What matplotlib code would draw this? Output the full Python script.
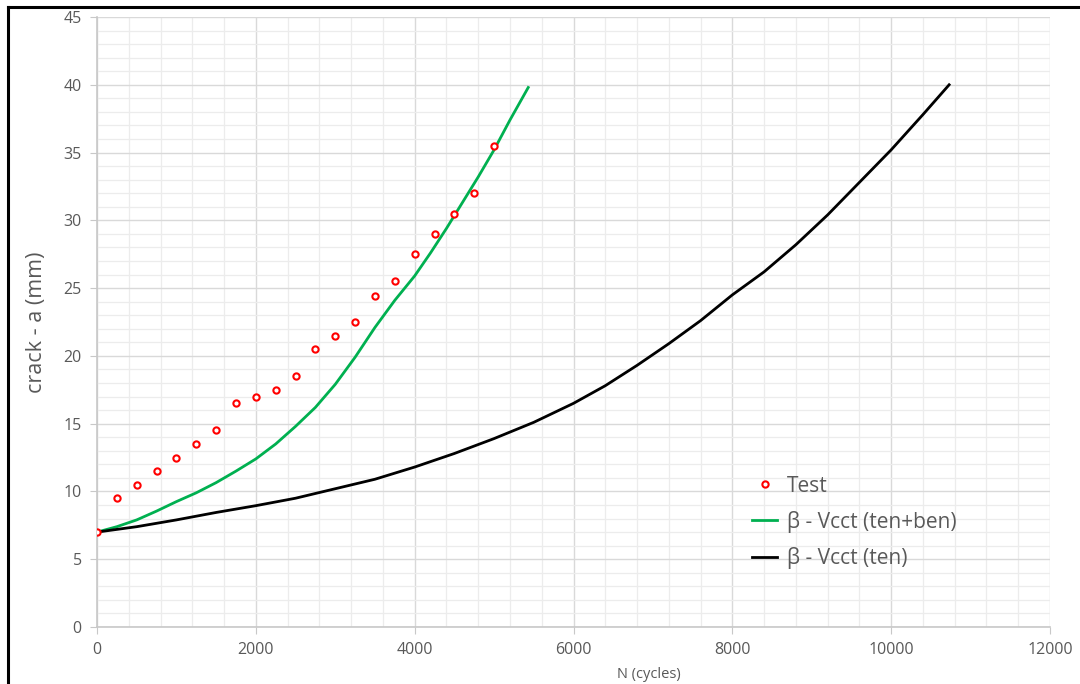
import matplotlib.pyplot as plt
from matplotlib.lines import Line2D
from matplotlib.ticker import MultipleLocator

# test data (crack length vs cycles)
test_N = [0, 250, 500, 750, 1000, 1250, 1500, 1750, 2000, 2250, 2500,
          2750, 3000, 3250, 3500, 3750, 4000, 4250, 4500, 4750, 5000]
test_a = [7.0, 9.5, 10.5, 11.5, 12.5, 13.5, 14.5, 16.5, 17.0, 17.5, 18.5,
          20.5, 21.5, 22.5, 24.4, 25.5, 27.5, 29.0, 30.5, 32.0, 35.5]

# beta - Vcct (ten+ben)
tb_N = [0, 250, 500, 750, 1000, 1250, 1500, 1750, 2000, 2250, 2500, 2750,
        3000, 3250, 3500, 3750, 4000, 4200, 4400, 4600, 4800, 5000, 5200, 5430]
tb_a = [7.0, 7.4, 7.9, 8.55, 9.25, 9.9, 10.65, 11.5, 12.4, 13.5, 14.8, 16.2,
        17.9, 19.9, 22.1, 24.1, 25.9, 27.6, 29.4, 31.3, 33.2, 35.2, 37.4, 39.8]

# beta - Vcct (ten)
t_N = [0, 500, 1000, 1500, 2000, 2500, 3000, 3500, 4000, 4500, 5000, 5500,
       6000, 6400, 6800, 7200, 7600, 8000, 8400, 8800, 9200, 9600, 10000,
       10400, 10730]
t_a = [7.0, 7.4, 7.9, 8.45, 8.95, 9.5, 10.2, 10.9, 11.8, 12.8, 13.9, 15.1,
       16.5, 17.8, 19.3, 20.9, 22.6, 24.5, 26.2, 28.2, 30.4, 32.8, 35.2,
       37.8, 40.0]

plt.rcParams['font.family'] = ['Open Sans', 'DejaVu Sans']
tick_color = "#595959"

fig = plt.figure(figsize=(10.8, 6.84), dpi=100)
ax = fig.add_axes([97/1080, 1-627/684, 953/1080, 610/684])

ax.plot(tb_N, tb_a, color="#00B050", linewidth=2.0, label="β - Vcct (ten+ben)", zorder=3)
ax.plot(t_N, t_a, color="black", linewidth=2.0, label="β - Vcct (ten)", zorder=3)
ax.plot(test_N, test_a, linestyle="none", marker="o", markersize=4.5,
        markerfacecolor="white", markeredgecolor="#FF0000", markeredgewidth=1.5,
        label="Test", zorder=4)

ax.set_xlim(0, 12000)
ax.set_ylim(0, 45)
ax.xaxis.set_major_locator(MultipleLocator(2000))
ax.xaxis.set_minor_locator(MultipleLocator(400))
ax.yaxis.set_major_locator(MultipleLocator(5))
ax.yaxis.set_minor_locator(MultipleLocator(1))

ax.grid(True, which="major", color="#d9d9d9", linewidth=1.0)
ax.grid(True, which="minor", color="#ececec", linewidth=0.9)
ax.set_axisbelow(True)

for s in ["top", "right"]:
    ax.spines[s].set_visible(False)
for s in ["left", "bottom"]:
    ax.spines[s].set_color("#c8c8c8")
    ax.spines[s].set_linewidth(1.2)

ax.tick_params(which="major", direction="out", length=5, color="#c8c8c8",
               labelcolor=tick_color, labelsize=11.5, pad=6)
ax.tick_params(which="minor", length=0)

ax.set_ylabel("crack - a (mm)", fontsize=15.5, color=tick_color, labelpad=12)
fig.text(649/1080, 1-674/684, "N (cycles)", fontsize=10.5, color=tick_color,
         ha="center", va="center")

h, l = ax.get_legend_handles_labels()
order = [2, 0, 1]
leg = ax.legend([h[i] for i in order], [l[i] for i in order],
                loc="upper left", bbox_to_anchor=(0.668, 0.279), frameon=False,
                fontsize=15, handlelength=1.2, handletextpad=0.45, labelspacing=0.68)
for t in leg.get_texts():
    t.set_color(tick_color)

# outer frame (top and left edges visible)
fig.add_artist(Line2D([8/1080, 8/1080], [0, 1-7/684], color="black", linewidth=2.2,
                      transform=fig.transFigure))
fig.add_artist(Line2D([8/1080, 1], [1-7/684, 1-7/684], color="black", linewidth=2.2,
                      transform=fig.transFigure))

fig.savefig("out.png", dpi=100)
